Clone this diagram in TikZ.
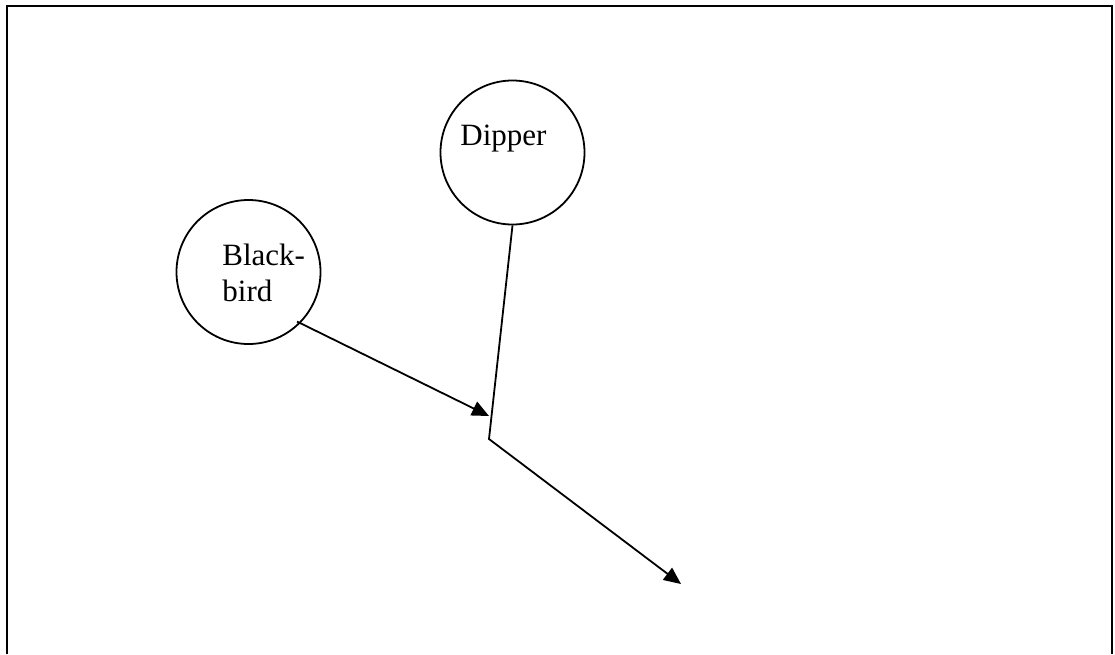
\documentclass[tikz,border=0pt]{standalone}
\usepackage{fontspec}
\setmainfont{Liberation Serif}
\usetikzlibrary{arrows.meta}
\begin{document}
\begin{tikzpicture}[x=0.5pt,y=-0.5pt,
  bird/.style={circle,draw,line width=0.9pt,minimum size=72pt,inner sep=0pt},
  lbl/.style={anchor=base west,inner sep=0pt,font=\fontsize{15.5pt}{18pt}\selectfont},
  conn/.style={line width=0.9pt},
  arr/.style={conn,-{Triangle[length=8.5pt,width=7.5pt]}},
  frame/.style={line width=1.4pt}]
\useasboundingbox (0,0) rectangle (1115,654);
\draw[frame] (7,654) -- (7,6) -- (1112,6) -- (1112,654);
\node[bird] (bb) at (248.5,272) {};
\node[bird] (dp) at (512.5,152.5) {};
\node[lbl] (bbt1) at (222,265) {Black-};
\node[lbl] (bbt2) at (222,301) {bird};
\node[lbl] (dpt) at (460,145) {Dipper};
\coordinate (tip1) at (489,416);
\coordinate (bend) at (489,439);
\coordinate (tip2) at (681,584);
\draw[arr] ([shift={(-3,-2)}]bb.-45) -- (tip1);
\draw[arr] (dp.south) -- (bend) -- (tip2);
\end{tikzpicture}
\end{document}
